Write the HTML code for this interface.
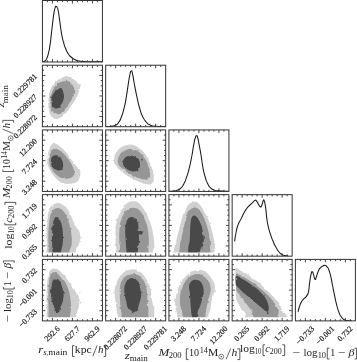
<!DOCTYPE html>
<html><head><meta charset="utf-8"><title>corner plot</title>
<style>html,body{margin:0;padding:0;background:#fff}body{width:357px;height:362px;overflow:hidden;font-family:"Liberation Serif",serif}svg{display:block}</style>
</head><body>
<svg width="357" height="362" viewBox="0 0 357 362">
<rect width="357" height="362" fill="#fff"/>
<defs>
<clipPath id="c00"><rect x="42.43" y="0.50" width="60.0" height="61.5"/></clipPath>
<clipPath id="c10"><rect x="42.43" y="65.22" width="60.0" height="61.5"/></clipPath>
<clipPath id="c11"><rect x="105.67" y="65.22" width="60.0" height="61.5"/></clipPath>
<clipPath id="c20"><rect x="42.43" y="129.94" width="60.0" height="61.5"/></clipPath>
<clipPath id="c21"><rect x="105.67" y="129.94" width="60.0" height="61.5"/></clipPath>
<clipPath id="c22"><rect x="168.91" y="129.94" width="60.0" height="61.5"/></clipPath>
<clipPath id="c30"><rect x="42.43" y="194.66" width="60.0" height="61.5"/></clipPath>
<clipPath id="c31"><rect x="105.67" y="194.66" width="60.0" height="61.5"/></clipPath>
<clipPath id="c32"><rect x="168.91" y="194.66" width="60.0" height="61.5"/></clipPath>
<clipPath id="c33"><rect x="232.15" y="194.66" width="60.0" height="61.5"/></clipPath>
<clipPath id="c40"><rect x="42.43" y="259.38" width="60.0" height="61.5"/></clipPath>
<clipPath id="c41"><rect x="105.67" y="259.38" width="60.0" height="61.5"/></clipPath>
<clipPath id="c42"><rect x="168.91" y="259.38" width="60.0" height="61.5"/></clipPath>
<clipPath id="c43"><rect x="232.15" y="259.38" width="60.0" height="61.5"/></clipPath>
<clipPath id="c44"><rect x="295.39" y="259.38" width="60.0" height="61.5"/></clipPath>
<filter id="soft" x="0" y="0" width="357" height="362" filterUnits="userSpaceOnUse"><feGaussianBlur stdDeviation="0.32"/></filter>
<filter id="rough" x="0" y="0" width="357" height="362" filterUnits="userSpaceOnUse"><feTurbulence type="fractalNoise" baseFrequency="0.22" numOctaves="2" seed="7" result="n"/><feDisplacementMap in="SourceGraphic" in2="n" scale="2.6" xChannelSelector="R" yChannelSelector="G"/></filter>
</defs>
<g filter="url(#soft)">
<g clip-path="url(#c10)"><g filter="url(#rough)">
<path d="M48.32 103.75C48.35 101.28 48.41 98.05 48.87 95.43C49.34 92.81 50.11 90.19 51.09 88.03C52.08 85.88 53.25 84.09 54.79 82.49C56.33 80.89 58.64 79.41 60.34 78.42C62.03 77.43 63.42 76.88 64.96 76.57C66.50 76.26 68.04 76.05 69.58 76.57C71.12 77.10 72.82 78.73 74.20 79.71C75.59 80.70 76.88 81.56 77.90 82.49C78.92 83.41 80.00 84.18 80.30 85.26C80.61 86.34 80.15 87.42 79.75 88.96C79.35 90.50 78.67 92.66 77.90 94.50C77.13 96.35 76.21 98.20 75.13 100.05C74.05 101.90 72.66 103.75 71.43 105.60C70.20 107.45 69.12 109.45 67.73 111.14C66.34 112.84 64.65 114.53 63.11 115.77C61.57 117.00 60.03 118.08 58.49 118.54C56.95 119.00 55.16 119.00 53.87 118.54C52.57 118.08 51.59 117.15 50.72 115.77C49.86 114.38 49.09 112.22 48.69 110.22C48.29 108.22 48.29 106.21 48.32 103.75Z" fill="#d0d0d0"/>
<path d="M50.54 103.75C50.41 101.59 50.32 98.66 50.72 96.35C51.12 94.04 51.96 91.82 52.94 89.88C53.93 87.94 55.10 86.09 56.64 84.71C58.18 83.32 60.34 82.18 62.19 81.56C64.03 80.95 66.19 80.70 67.73 81.01C69.27 81.32 70.41 82.40 71.43 83.41C72.45 84.43 73.37 85.72 73.83 87.11C74.29 88.50 74.45 89.88 74.20 91.73C73.96 93.58 73.12 96.35 72.35 98.20C71.58 100.05 70.66 101.13 69.58 102.82C68.50 104.52 67.27 106.68 65.88 108.37C64.50 110.07 62.65 112.01 61.26 112.99C59.87 113.98 58.80 114.29 57.56 114.29C56.33 114.29 54.88 113.82 53.87 112.99C52.85 112.16 52.02 110.84 51.46 109.29C50.91 107.75 50.66 105.91 50.54 103.75Z" fill="#969696"/>
<path d="M51.46 101.90C51.40 100.36 51.46 98.05 52.02 96.35C52.57 94.66 53.71 92.96 54.79 91.73C55.87 90.50 57.41 89.57 58.49 88.96C59.57 88.34 60.49 87.57 61.26 88.03C62.03 88.50 62.65 90.34 63.11 91.73C63.57 93.12 64.03 94.81 64.03 96.35C64.03 97.89 63.73 99.43 63.11 100.98C62.49 102.52 61.26 104.36 60.34 105.60C59.41 106.83 58.55 107.97 57.56 108.37C56.58 108.77 55.28 108.46 54.42 108.00C53.56 107.54 52.88 106.61 52.39 105.60C51.89 104.58 51.52 103.44 51.46 101.90Z" fill="#4a4a4a"/>
</g></g>
<g clip-path="url(#c20)"><g filter="url(#rough)">
<path d="M47.40 163.13C46.99 160.66 47.46 158.04 47.76 155.73C48.07 153.42 48.54 151.17 49.24 149.26C49.95 147.35 50.94 145.19 52.02 144.27C53.10 143.34 54.33 143.34 55.71 143.71C57.10 144.08 58.80 145.26 60.34 146.49C61.88 147.72 63.57 149.57 64.96 151.11C66.34 152.65 67.42 154.04 68.66 155.73C69.89 157.43 70.97 159.43 72.35 161.28C73.74 163.13 75.74 165.44 76.98 166.82C78.21 168.21 79.19 168.36 79.75 169.60C80.30 170.83 80.46 172.52 80.30 174.22C80.15 175.91 79.53 178.38 78.82 179.77C78.12 181.15 77.44 181.86 76.05 182.54C74.66 183.22 72.51 183.68 70.50 183.83C68.50 183.99 66.04 183.99 64.03 183.46C62.03 182.94 60.18 181.92 58.49 180.69C56.79 179.46 55.25 177.76 53.87 176.07C52.48 174.37 51.25 172.68 50.17 170.52C49.09 168.36 47.80 165.59 47.40 163.13Z" fill="#d0d0d0"/>
<path d="M49.24 162.20C48.84 159.89 49.24 157.67 49.61 155.73C49.98 153.79 50.60 151.73 51.46 150.56C52.33 149.38 53.47 148.77 54.79 148.71C56.12 148.64 57.87 149.32 59.41 150.19C60.95 151.05 62.65 152.50 64.03 153.88C65.42 155.27 66.50 156.81 67.73 158.50C68.96 160.20 70.41 162.20 71.43 164.05C72.45 165.90 73.37 167.90 73.83 169.60C74.29 171.29 74.60 172.89 74.20 174.22C73.80 175.54 72.82 176.78 71.43 177.55C70.04 178.32 67.73 178.84 65.88 178.84C64.03 178.84 62.03 178.32 60.34 177.55C58.64 176.78 57.10 175.54 55.71 174.22C54.33 172.89 53.10 171.60 52.02 169.60C50.94 167.59 49.64 164.51 49.24 162.20Z" fill="#969696"/>
<path d="M51.09 163.13C50.91 161.68 51.09 159.74 51.46 158.50C51.83 157.27 52.45 156.26 53.31 155.73C54.17 155.21 55.47 155.05 56.64 155.36C57.81 155.67 59.35 156.59 60.34 157.58C61.32 158.57 62.09 159.89 62.56 161.28C63.02 162.66 63.17 164.61 63.11 165.90C63.05 167.19 62.80 168.27 62.19 169.04C61.57 169.81 60.49 170.43 59.41 170.52C58.33 170.61 56.85 170.15 55.71 169.60C54.57 169.04 53.34 168.27 52.57 167.19C51.80 166.12 51.28 164.57 51.09 163.13Z" fill="#4a4a4a"/>
</g></g>
<g clip-path="url(#c21)"><g filter="url(#rough)">
<path d="M114.09 160.35C114.09 158.81 114.40 156.50 115.02 154.81C115.63 153.11 116.56 151.57 117.79 150.19C119.02 148.80 120.72 147.41 122.41 146.49C124.11 145.56 126.11 144.89 127.96 144.64C129.81 144.39 131.81 144.55 133.50 145.01C135.20 145.47 136.59 146.40 138.13 147.41C139.67 148.43 141.36 149.72 142.75 151.11C144.14 152.50 145.37 154.04 146.45 155.73C147.52 157.43 148.39 159.43 149.22 161.28C150.05 163.13 150.76 164.82 151.44 166.82C152.12 168.83 152.89 171.14 153.29 173.29C153.69 175.45 154.06 178.07 153.84 179.77C153.63 181.46 153.07 182.69 151.99 183.46C150.91 184.23 149.22 184.54 147.37 184.39C145.52 184.23 143.06 183.31 140.90 182.54C138.74 181.77 136.59 180.84 134.43 179.77C132.27 178.69 129.96 177.30 127.96 176.07C125.96 174.84 124.11 173.76 122.41 172.37C120.72 170.98 119.02 169.14 117.79 167.75C116.56 166.36 115.63 165.28 115.02 164.05C114.40 162.82 114.09 161.89 114.09 160.35Z" fill="#d0d0d0"/>
<path d="M117.79 161.28C117.88 159.74 118.50 157.33 119.27 155.73C120.04 154.13 120.96 152.74 122.41 151.66C123.86 150.59 126.11 149.66 127.96 149.26C129.81 148.86 131.66 148.80 133.50 149.26C135.35 149.72 137.36 150.80 139.05 152.03C140.75 153.27 142.35 154.96 143.67 156.66C145.00 158.35 146.14 160.35 147.00 162.20C147.86 164.05 148.33 165.75 148.85 167.75C149.37 169.75 150.08 172.46 150.14 174.22C150.21 175.98 149.99 177.36 149.22 178.29C148.45 179.21 147.22 179.77 145.52 179.77C143.83 179.77 141.21 179.06 139.05 178.29C136.89 177.52 134.74 176.28 132.58 175.14C130.42 174.00 127.96 172.68 126.11 171.45C124.26 170.21 122.72 168.83 121.49 167.75C120.26 166.67 119.33 166.05 118.71 164.98C118.10 163.90 117.70 162.82 117.79 161.28Z" fill="#969696"/>
<path d="M122.97 162.20C123.12 161.12 123.43 159.52 124.26 158.50C125.09 157.49 126.57 156.56 127.96 156.10C129.34 155.64 131.19 155.49 132.58 155.73C133.97 155.98 135.20 156.72 136.28 157.58C137.36 158.44 138.43 159.83 139.05 160.91C139.67 161.99 139.88 162.91 139.98 164.05C140.07 165.19 140.07 166.67 139.61 167.75C139.14 168.83 138.22 169.91 137.20 170.52C136.19 171.14 134.89 171.51 133.50 171.45C132.12 171.38 130.27 170.77 128.88 170.15C127.50 169.54 126.11 168.61 125.19 167.75C124.26 166.89 123.71 165.90 123.34 164.98C122.97 164.05 122.81 163.28 122.97 162.20Z" fill="#4a4a4a"/>
</g></g>
<clipPath id="f30"><rect x="42.43" y="194.66" width="60.0" height="57.80"/></clipPath>
<g clip-path="url(#f30)"><g filter="url(#rough)">
<path d="M46.47 235.52C46.47 232.13 46.81 229.36 47.03 226.28C47.24 223.20 47.46 219.65 47.76 217.03C48.07 214.41 48.32 212.41 48.87 210.56C49.43 208.71 50.11 207.08 51.09 205.94C52.08 204.80 53.40 204.19 54.79 203.72C56.18 203.26 57.87 202.86 59.41 203.17C60.95 203.48 62.65 204.55 64.03 205.57C65.42 206.59 66.65 207.82 67.73 209.27C68.81 210.72 69.64 212.35 70.50 214.26C71.37 216.17 72.14 218.73 72.91 220.73C73.68 222.73 74.29 224.89 75.13 226.28C75.96 227.66 77.13 227.97 77.90 229.05C78.67 230.13 79.35 231.36 79.75 232.75C80.15 234.14 80.30 235.83 80.30 237.37C80.30 238.91 80.15 240.61 79.75 241.99C79.35 243.38 78.52 244.46 77.90 245.69C77.28 246.92 76.82 247.38 76.05 249.39C75.28 251.39 77.90 256.32 73.28 257.71C68.66 259.09 52.69 259.56 48.32 257.71C43.94 255.86 47.33 250.31 47.03 246.61C46.72 242.92 46.47 238.91 46.47 235.52Z" fill="#d0d0d0"/>
<path d="M48.32 237.37C48.32 233.98 48.57 229.82 48.87 226.28C49.18 222.73 49.55 218.73 50.17 216.11C50.78 213.49 51.49 211.89 52.57 210.56C53.65 209.24 55.19 208.38 56.64 208.16C58.09 207.94 59.87 208.41 61.26 209.27C62.65 210.13 63.88 211.73 64.96 213.34C66.04 214.94 66.96 216.88 67.73 218.88C68.50 220.89 69.03 223.20 69.58 225.35C70.13 227.51 70.69 229.51 71.06 231.82C71.43 234.14 71.74 236.91 71.80 239.22C71.86 241.53 71.80 243.84 71.43 245.69C71.06 247.54 70.20 248.31 69.58 250.31C68.96 252.31 70.97 256.47 67.73 257.71C64.50 258.94 53.31 259.56 50.17 257.71C47.03 255.86 49.18 250.00 48.87 246.61C48.57 243.22 48.32 240.76 48.32 237.37Z" fill="#969696"/>
<path d="M52.02 235.52C52.08 232.44 52.26 228.90 52.57 226.28C52.88 223.66 53.19 221.35 53.87 219.81C54.54 218.27 55.71 217.19 56.64 217.03C57.56 216.88 58.64 217.80 59.41 218.88C60.18 219.96 60.74 221.66 61.26 223.50C61.78 225.35 62.25 227.66 62.56 229.98C62.86 232.29 63.11 234.91 63.11 237.37C63.11 239.84 62.86 242.61 62.56 244.77C62.25 246.92 61.78 248.15 61.26 250.31C60.74 252.47 60.74 256.47 59.41 257.71C58.09 258.94 54.51 259.86 53.31 257.71C52.11 255.55 52.42 248.46 52.20 244.77C51.99 241.07 51.96 238.60 52.02 235.52Z" fill="#4a4a4a"/>
</g></g>
<clipPath id="f31"><rect x="105.67" y="194.66" width="60.0" height="57.80"/></clipPath>
<g clip-path="url(#f31)"><g filter="url(#rough)">
<path d="M115.57 229.98C115.69 226.89 115.79 224.89 116.31 222.58C116.83 220.27 117.85 218.11 118.71 216.11C119.58 214.11 120.41 212.41 121.49 210.56C122.57 208.71 123.80 206.47 125.19 205.02C126.57 203.57 128.27 202.49 129.81 201.87C131.35 201.26 132.89 201.10 134.43 201.32C135.97 201.54 137.66 202.09 139.05 203.17C140.44 204.25 141.52 206.10 142.75 207.79C143.98 209.48 145.37 211.33 146.45 213.34C147.52 215.34 148.39 217.65 149.22 219.81C150.05 221.96 150.82 224.12 151.44 226.28C152.05 228.43 152.52 230.59 152.92 232.75C153.32 234.91 153.59 237.06 153.84 239.22C154.09 241.38 154.55 243.84 154.40 245.69C154.24 247.54 153.63 248.31 152.92 250.31C152.21 252.31 155.84 256.47 150.14 257.71C144.44 258.94 124.35 259.25 118.71 257.71C113.08 256.17 116.83 251.24 116.31 248.46C115.79 245.69 115.69 244.15 115.57 241.07C115.45 237.99 115.45 233.06 115.57 229.98Z" fill="#d0d0d0"/>
<path d="M119.27 231.82C119.39 229.36 119.58 226.74 120.01 224.43C120.44 222.12 121.06 219.96 121.86 217.96C122.66 215.96 123.64 213.95 124.82 212.41C125.99 210.87 127.43 209.48 128.88 208.71C130.33 207.94 131.96 207.70 133.50 207.79C135.05 207.88 136.74 208.34 138.13 209.27C139.51 210.19 140.75 211.73 141.82 213.34C142.90 214.94 143.73 216.88 144.60 218.88C145.46 220.89 146.38 223.04 147.00 225.35C147.62 227.66 147.99 230.28 148.29 232.75C148.60 235.21 148.85 237.68 148.85 240.14C148.85 242.61 148.70 244.61 148.29 247.54C147.89 250.47 150.76 256.01 146.45 257.71C142.13 259.40 126.82 259.56 122.41 257.71C118.01 255.86 120.53 249.70 120.01 246.61C119.48 243.53 119.39 241.68 119.27 239.22C119.15 236.75 119.15 234.29 119.27 231.82Z" fill="#969696"/>
<path d="M125.19 229.98C125.28 227.51 125.65 225.35 126.11 223.50C126.57 221.66 127.03 219.96 127.96 218.88C128.88 217.80 130.42 217.10 131.66 217.03C132.89 216.97 134.34 217.59 135.35 218.51C136.37 219.44 137.23 221.13 137.76 222.58C138.28 224.03 138.28 225.82 138.50 227.20C138.71 228.59 138.50 230.28 139.05 230.90C139.61 231.52 141.21 230.59 141.82 230.90C142.44 231.21 142.81 232.13 142.75 232.75C142.69 233.36 142.07 234.29 141.45 234.60C140.84 234.91 139.45 233.52 139.05 234.60C138.65 235.68 139.21 238.76 139.05 241.07C138.90 243.38 138.59 245.69 138.13 248.46C137.66 251.24 137.97 256.17 136.28 257.71C134.58 259.25 129.65 259.56 127.96 257.71C126.26 255.86 126.51 249.85 126.11 246.61C125.71 243.38 125.71 241.07 125.56 238.29C125.40 235.52 125.09 232.44 125.19 229.98Z" fill="#4a4a4a"/>
</g></g>
<clipPath id="f32"><rect x="168.91" y="194.66" width="60.0" height="57.80"/></clipPath>
<g clip-path="url(#f32)"><g filter="url(#rough)">
<path d="M174.32 248.46C174.32 245.69 175.55 243.53 176.17 241.07C176.78 238.60 177.40 236.14 178.02 233.67C178.63 231.21 179.25 228.74 179.87 226.28C180.48 223.81 180.94 221.35 181.71 218.88C182.48 216.42 183.41 213.80 184.49 211.49C185.57 209.18 186.95 206.56 188.19 205.02C189.42 203.48 190.65 202.77 191.88 202.24C193.12 201.72 194.35 201.57 195.58 201.87C196.81 202.18 198.05 202.80 199.28 204.09C200.51 205.39 201.74 207.64 202.98 209.64C204.21 211.64 205.59 213.95 206.67 216.11C207.75 218.27 208.68 220.42 209.45 222.58C210.22 224.74 210.68 226.89 211.29 229.05C211.91 231.21 212.62 233.36 213.14 235.52C213.67 237.68 214.13 239.99 214.44 241.99C214.75 244.00 215.21 244.92 214.99 247.54C214.78 250.16 213.91 256.01 213.14 257.71C212.37 259.40 216.53 257.71 210.37 257.71C204.21 257.71 182.18 259.25 176.17 257.71C170.16 256.17 174.32 251.24 174.32 248.46Z" fill="#d0d0d0"/>
<path d="M179.87 246.61C179.77 243.53 180.64 241.84 181.16 239.22C181.68 236.60 182.39 233.67 183.01 230.90C183.62 228.13 184.15 225.20 184.86 222.58C185.57 219.96 186.40 217.28 187.26 215.19C188.12 213.09 188.96 211.24 190.03 210.01C191.11 208.78 192.50 208.10 193.73 207.79C194.96 207.48 196.20 207.39 197.43 208.16C198.66 208.93 199.96 210.62 201.13 212.41C202.30 214.20 203.47 216.57 204.45 218.88C205.44 221.19 206.30 223.81 207.04 226.28C207.78 228.74 208.40 231.21 208.89 233.67C209.38 236.14 209.82 238.76 210.00 241.07C210.19 243.38 210.31 244.77 210.00 247.54C209.69 250.31 212.87 256.01 208.15 257.71C203.44 259.40 186.43 259.56 181.71 257.71C177.00 255.86 179.96 249.70 179.87 246.61Z" fill="#969696"/>
<path d="M188.19 248.46C188.28 245.69 189.36 243.69 189.66 241.07C189.97 238.45 189.91 235.52 190.03 232.75C190.16 229.98 190.16 226.89 190.40 224.43C190.65 221.96 190.96 219.44 191.51 217.96C192.07 216.48 192.90 215.77 193.73 215.56C194.56 215.34 195.58 215.80 196.50 216.66C197.43 217.53 198.42 219.13 199.28 220.73C200.14 222.33 201.07 224.28 201.68 226.28C202.30 228.28 202.61 230.59 202.98 232.75C203.35 234.91 203.90 237.06 203.90 239.22C203.90 241.38 203.59 243.84 202.98 245.69C202.36 247.54 201.13 248.31 200.20 250.31C199.28 252.31 199.28 256.47 197.43 257.71C195.58 258.94 190.65 259.25 189.11 257.71C187.57 256.17 188.09 251.24 188.19 248.46Z" fill="#4a4a4a"/>
</g></g>
<clipPath id="f40"><rect x="42.43" y="259.38" width="60.0" height="57.80"/></clipPath>
<g clip-path="url(#f40)"><g filter="url(#rough)">
<path d="M46.47 298.67C46.47 294.67 46.81 290.97 47.03 287.58C47.24 284.19 47.40 280.96 47.76 278.34C48.13 275.72 48.44 273.47 49.24 271.87C50.04 270.26 51.34 269.19 52.57 268.72C53.80 268.26 55.19 268.48 56.64 269.09C58.09 269.71 59.72 271.03 61.26 272.42C62.80 273.81 64.50 275.66 65.88 277.41C67.27 279.17 68.41 281.11 69.58 282.96C70.75 284.81 71.83 286.96 72.91 288.50C73.99 290.05 75.13 290.97 76.05 292.20C76.98 293.43 77.93 294.36 78.45 295.90C78.98 297.44 79.13 299.60 79.19 301.45C79.26 303.29 79.19 305.14 78.82 306.99C78.45 308.84 77.75 309.92 76.98 312.54C76.21 315.16 75.13 321.01 74.20 322.71C73.28 324.40 75.74 322.71 71.43 322.71C67.12 322.71 52.39 324.56 48.32 322.71C44.25 320.86 47.33 315.62 47.03 311.61C46.72 307.61 46.47 302.68 46.47 298.67Z" fill="#d0d0d0"/>
<path d="M48.32 298.67C48.32 294.82 48.47 290.97 48.69 287.58C48.90 284.19 49.15 280.65 49.61 278.34C50.08 276.03 50.60 274.70 51.46 273.71C52.33 272.73 53.47 272.20 54.79 272.42C56.12 272.64 57.93 273.78 59.41 275.01C60.89 276.24 62.43 278.09 63.66 279.82C64.90 281.54 65.88 283.30 66.81 285.36C67.73 287.43 68.59 289.83 69.21 292.20C69.83 294.57 70.20 297.13 70.50 299.60C70.81 302.06 71.06 304.84 71.06 306.99C71.06 309.15 70.91 309.92 70.50 312.54C70.10 315.16 69.27 321.01 68.66 322.71C68.04 324.40 69.89 322.71 66.81 322.71C63.73 322.71 53.19 324.71 50.17 322.71C47.15 320.70 49.00 314.70 48.69 310.69C48.38 306.68 48.32 302.52 48.32 298.67Z" fill="#969696"/>
<path d="M51.09 294.98C51.06 292.97 51.22 289.89 51.46 287.58C51.71 285.27 52.02 282.59 52.57 281.11C53.13 279.63 53.87 279.01 54.79 278.71C55.71 278.40 57.13 278.55 58.12 279.26C59.10 279.97 59.97 281.42 60.71 282.96C61.45 284.50 62.06 286.66 62.56 288.50C63.05 290.35 63.57 292.20 63.66 294.05C63.76 295.90 63.42 297.90 63.11 299.60C62.80 301.29 62.34 302.77 61.82 304.22C61.29 305.67 60.37 307.05 59.97 308.29C59.57 309.52 59.81 310.91 59.41 311.61C59.01 312.32 58.18 312.54 57.56 312.54C56.95 312.54 56.18 312.23 55.71 311.61C55.25 311.00 55.25 310.07 54.79 308.84C54.33 307.61 53.47 305.76 52.94 304.22C52.42 302.68 51.96 301.14 51.65 299.60C51.34 298.06 51.12 296.98 51.09 294.98Z" fill="#4a4a4a"/>
</g></g>
<clipPath id="f41"><rect x="105.67" y="259.38" width="60.0" height="57.80"/></clipPath>
<g clip-path="url(#f41)"><g filter="url(#rough)">
<path d="M114.46 290.35C114.62 288.04 115.23 285.89 115.94 283.88C116.65 281.88 117.48 280.19 118.71 278.34C119.95 276.49 121.64 274.18 123.34 272.79C125.03 271.40 126.88 270.57 128.88 270.02C130.89 269.46 133.50 269.15 135.35 269.46C137.20 269.77 138.43 270.69 139.98 271.87C141.52 273.04 143.21 274.64 144.60 276.49C145.98 278.34 147.28 280.80 148.29 282.96C149.31 285.12 150.17 287.43 150.70 289.43C151.22 291.43 151.22 292.97 151.44 294.98C151.65 296.98 151.59 299.44 151.99 301.45C152.39 303.45 153.44 305.30 153.84 306.99C154.24 308.69 154.55 309.00 154.40 311.61C154.24 314.23 153.78 320.86 152.92 322.71C152.05 324.56 154.46 322.71 149.22 322.71C143.98 322.71 126.73 323.94 121.49 322.71C116.25 321.47 118.65 317.47 117.79 315.31C116.93 313.15 116.62 311.61 116.31 309.77C116.00 307.92 116.16 306.22 115.94 304.22C115.73 302.22 115.26 300.06 115.02 297.75C114.77 295.44 114.31 292.66 114.46 290.35Z" fill="#d0d0d0"/>
<path d="M119.64 291.28C119.73 288.81 119.95 286.04 120.56 283.88C121.18 281.73 122.10 279.82 123.34 278.34C124.57 276.86 126.26 275.69 127.96 275.01C129.65 274.33 131.66 274.18 133.50 274.27C135.35 274.36 137.51 274.73 139.05 275.56C140.59 276.40 141.67 277.72 142.75 279.26C143.83 280.80 144.81 282.65 145.52 284.81C146.23 286.96 146.69 289.58 147.00 292.20C147.31 294.82 147.15 297.90 147.37 300.52C147.59 303.14 148.14 305.76 148.29 307.92C148.45 310.07 148.60 311.00 148.29 313.46C147.99 315.93 150.45 321.17 146.45 322.71C142.44 324.25 128.42 324.25 124.26 322.71C120.10 321.17 122.10 316.24 121.49 313.46C120.87 310.69 120.81 308.53 120.56 306.07C120.32 303.60 120.16 301.14 120.01 298.67C119.85 296.21 119.55 293.74 119.64 291.28Z" fill="#969696"/>
<path d="M124.26 289.43C124.32 287.58 124.57 285.49 125.19 283.88C125.80 282.28 126.88 280.80 127.96 279.82C129.04 278.83 130.42 278.15 131.66 277.97C132.89 277.78 134.28 278.09 135.35 278.71C136.43 279.32 137.36 280.34 138.13 281.66C138.90 282.99 139.51 285.05 139.98 286.66C140.44 288.26 140.44 290.35 140.90 291.28C141.36 292.20 142.66 291.74 142.75 292.20C142.84 292.66 141.76 293.13 141.45 294.05C141.15 294.98 141.30 296.05 140.90 297.75C140.50 299.44 139.67 302.22 139.05 304.22C138.43 306.22 138.13 308.38 137.20 309.77C136.28 311.15 134.43 311.92 133.50 312.54C132.58 313.15 131.81 313.77 131.66 313.46C131.50 313.15 132.89 311.31 132.58 310.69C132.27 310.07 130.67 310.38 129.81 309.77C128.94 309.15 128.02 308.38 127.40 306.99C126.79 305.61 126.54 303.45 126.11 301.45C125.68 299.44 125.12 296.98 124.82 294.98C124.51 292.97 124.20 291.28 124.26 289.43Z" fill="#4a4a4a"/>
</g></g>
<clipPath id="f42"><rect x="168.91" y="259.38" width="60.0" height="57.80"/></clipPath>
<g clip-path="url(#f42)"><g filter="url(#rough)">
<path d="M175.24 302.37C175.34 300.21 175.71 297.29 176.17 294.98C176.63 292.66 177.25 290.51 178.02 288.50C178.79 286.50 179.71 284.81 180.79 282.96C181.87 281.11 183.10 279.05 184.49 277.41C185.87 275.78 187.57 274.30 189.11 273.16C190.65 272.02 192.04 271.10 193.73 270.57C195.43 270.05 197.43 269.89 199.28 270.02C201.13 270.14 203.13 270.39 204.82 271.31C206.52 272.24 208.06 273.93 209.45 275.56C210.83 277.20 212.22 279.26 213.14 281.11C214.07 282.96 214.78 284.81 214.99 286.66C215.21 288.50 214.90 290.51 214.44 292.20C213.98 293.90 212.74 295.13 212.22 296.82C211.70 298.52 211.60 300.37 211.29 302.37C210.99 304.37 210.83 306.84 210.37 308.84C209.91 310.84 209.29 312.08 208.52 314.39C207.75 316.70 210.52 321.32 205.75 322.71C200.97 324.09 184.64 324.25 179.87 322.71C175.09 321.17 177.80 315.93 177.09 313.46C176.38 311.00 175.92 309.77 175.61 307.92C175.31 306.07 175.15 304.53 175.24 302.37Z" fill="#d0d0d0"/>
<path d="M179.87 300.52C179.87 298.36 179.96 295.44 180.42 293.13C180.88 290.82 181.81 288.66 182.64 286.66C183.47 284.65 184.18 282.80 185.41 281.11C186.64 279.41 188.34 277.63 190.03 276.49C191.73 275.35 193.73 274.58 195.58 274.27C197.43 273.96 199.43 274.02 201.13 274.64C202.82 275.26 204.36 276.58 205.75 277.97C207.14 279.35 208.61 281.20 209.45 282.96C210.28 284.71 210.65 286.66 210.74 288.50C210.83 290.35 210.43 292.20 210.00 294.05C209.57 295.90 208.64 297.59 208.15 299.60C207.66 301.60 207.44 303.91 207.04 306.07C206.64 308.22 206.43 309.77 205.75 312.54C205.07 315.31 206.52 321.01 202.98 322.71C199.43 324.40 187.94 324.40 184.49 322.71C181.04 321.01 182.95 315.31 182.27 312.54C181.59 309.77 180.82 308.07 180.42 306.07C180.02 304.07 179.87 302.68 179.87 300.52Z" fill="#969696"/>
<path d="M189.11 285.73C189.39 284.44 190.03 282.65 190.96 281.66C191.88 280.68 193.33 280.00 194.66 279.82C195.98 279.63 197.68 279.88 198.91 280.56C200.14 281.23 201.28 282.56 202.05 283.88C202.82 285.21 203.31 286.81 203.53 288.50C203.75 290.20 203.59 292.20 203.35 294.05C203.10 295.90 202.57 297.59 202.05 299.60C201.53 301.60 200.91 304.07 200.20 306.07C199.49 308.07 198.57 308.84 197.80 311.61C197.03 314.39 196.26 320.86 195.58 322.71C194.90 324.56 194.41 324.09 193.73 322.71C193.05 321.32 191.98 316.70 191.51 314.39C191.05 312.08 191.14 310.84 190.96 308.84C190.77 306.84 190.56 304.68 190.40 302.37C190.25 300.06 190.22 297.13 190.03 294.98C189.85 292.82 189.45 290.97 189.29 289.43C189.14 287.89 188.83 287.03 189.11 285.73Z" fill="#4a4a4a"/>
</g></g>
<clipPath id="f43"><rect x="232.15" y="259.38" width="60.0" height="57.80"/></clipPath>
<g clip-path="url(#f43)"><g filter="url(#rough)">
<path d="M235.47 269.09C236.03 267.00 237.63 268.85 239.17 269.46C240.71 270.08 242.87 271.62 244.71 272.79C246.56 273.96 248.26 275.10 250.26 276.49C252.26 277.87 254.57 279.41 256.73 281.11C258.89 282.80 261.20 284.81 263.20 286.66C265.21 288.50 266.90 290.35 268.75 292.20C270.60 294.05 272.60 295.75 274.29 297.75C275.99 299.75 277.53 302.06 278.92 304.22C280.30 306.38 281.38 308.84 282.61 310.69C283.85 312.54 285.45 313.31 286.31 315.31C287.17 317.31 294.26 321.47 287.79 322.71C281.32 323.94 254.51 324.25 247.49 322.71C240.46 321.17 246.56 315.62 245.64 313.46C244.71 311.31 243.02 311.15 241.94 309.77C240.86 308.38 240.03 306.68 239.17 305.14C238.31 303.60 237.29 302.22 236.76 300.52C236.24 298.83 236.18 298.06 236.03 294.98C235.87 291.89 235.93 286.35 235.84 282.03C235.75 277.72 234.92 271.19 235.47 269.09Z" fill="#d0d0d0"/>
<path d="M235.84 274.64C236.30 272.17 237.69 274.18 239.17 274.64C240.65 275.10 242.87 276.33 244.71 277.41C246.56 278.49 248.26 279.72 250.26 281.11C252.26 282.50 254.57 284.10 256.73 285.73C258.89 287.36 261.20 289.21 263.20 290.91C265.21 292.60 267.05 294.14 268.75 295.90C270.44 297.66 272.05 299.60 273.37 301.45C274.70 303.29 275.84 305.14 276.70 306.99C277.56 308.84 278.42 309.92 278.55 312.54C278.67 315.16 278.30 321.01 277.44 322.71C276.58 324.40 276.82 322.71 273.37 322.71C269.92 322.71 260.28 324.56 256.73 322.71C253.19 320.86 253.65 314.54 252.11 311.61C250.57 308.69 249.03 307.15 247.49 305.14C245.95 303.14 244.25 301.45 242.87 299.60C241.48 297.75 240.25 295.75 239.17 294.05C238.09 292.36 236.95 292.66 236.40 289.43C235.84 286.19 235.38 277.10 235.84 274.64Z" fill="#969696"/>
<path d="M235.84 276.49C236.36 275.26 237.69 276.80 239.17 277.41C240.65 278.03 242.87 279.11 244.71 280.19C246.56 281.26 248.26 282.50 250.26 283.88C252.26 285.27 254.73 286.81 256.73 288.50C258.73 290.20 260.74 292.36 262.28 294.05C263.82 295.75 264.99 296.98 265.98 298.67C266.96 300.37 267.73 302.37 268.19 304.22C268.66 306.07 268.81 308.53 268.75 309.77C268.69 311.00 268.44 311.46 267.82 311.61C267.21 311.77 266.44 311.61 265.05 310.69C263.66 309.77 261.35 307.61 259.50 306.07C257.66 304.53 255.81 302.99 253.96 301.45C252.11 299.91 250.26 298.36 248.41 296.82C246.56 295.28 244.56 293.74 242.87 292.20C241.17 290.66 239.38 288.81 238.24 287.58C237.10 286.35 236.43 286.66 236.03 284.81C235.62 282.96 235.32 277.72 235.84 276.49Z" fill="#4a4a4a"/>
</g></g>
<g filter="url(#rough)"><ellipse cx="141.9" cy="159.7" rx="1.0" ry="0.8" fill="#4a4a4a"/><ellipse cx="267.8" cy="313.2" rx="1.0" ry="0.9" fill="#4a4a4a"/><ellipse cx="80.3" cy="292.8" rx="0.8" ry="0.8" fill="#d0d0d0"/><ellipse cx="80.6" cy="302.5" rx="0.7" ry="0.9" fill="#d0d0d0"/><ellipse cx="81.0" cy="237.5" rx="0.7" ry="0.8" fill="#d0d0d0"/></g>
<path clip-path="url(#c00)" d="M42.31 61.96C43.03 61.76 43.03 62.48 44.47 61.37C45.91 60.26 45.25 61.57 46.63 58.63C48.00 55.69 47.41 57.39 48.59 52.55C49.76 47.71 49.21 50.52 50.16 44.12C51.10 37.71 50.55 40.85 51.43 33.33C52.31 25.82 51.92 28.63 52.80 21.57C53.69 14.51 53.26 16.86 54.08 12.16C54.90 7.45 54.54 9.35 55.25 7.45C55.97 5.56 55.58 6.41 56.24 6.47C56.89 6.54 56.50 5.88 57.22 7.65C57.93 9.41 57.48 6.80 58.39 11.76C59.31 16.73 58.92 15.36 59.96 22.55C61.01 29.74 60.35 26.80 61.53 33.33C62.71 39.87 62.05 36.93 63.49 42.16C64.93 47.39 64.21 45.10 65.84 49.02C67.48 52.94 66.56 51.18 68.39 53.92C70.22 56.67 69.05 55.29 71.33 57.25C73.62 59.22 72.64 58.56 75.25 59.80C77.87 61.05 76.24 60.39 79.18 60.98C82.12 61.57 80.16 61.31 84.08 61.57C88.00 61.83 84.73 61.70 90.94 61.76C97.15 61.83 98.78 61.76 102.71 61.76" fill="none" stroke="#1a1a1a" stroke-width="1.05" stroke-linejoin="round"/>
<path clip-path="url(#c11)" d="M105.77 126.49C107.62 126.43 107.93 126.80 111.32 126.30C114.71 125.81 113.48 126.37 115.94 125.01C118.41 123.65 116.87 125.01 118.71 122.24C120.56 119.46 119.64 121.62 121.49 116.69C123.34 111.76 122.72 113.61 124.26 107.45C125.80 101.28 124.88 105.29 126.11 98.20C127.34 91.12 126.73 93.89 127.96 86.19C129.19 78.48 128.70 80.15 129.81 75.09C130.92 70.04 130.36 71.33 131.29 71.03C132.21 70.72 131.53 69.73 132.58 74.17C133.63 78.61 132.89 76.33 134.43 84.34C135.97 92.35 135.35 89.88 137.20 98.20C139.05 106.52 138.13 103.13 139.98 109.29C141.82 115.46 140.59 112.38 142.75 116.69C144.91 121.00 143.98 119.46 146.45 122.24C148.91 125.01 147.06 123.65 150.14 125.01C153.22 126.37 150.45 125.81 155.69 126.30C160.93 126.80 162.47 126.43 165.86 126.49" fill="none" stroke="#1a1a1a" stroke-width="1.05" stroke-linejoin="round"/>
<path clip-path="url(#c22)" d="M168.77 191.23C170.31 191.17 170.62 191.35 173.40 191.04C176.17 190.73 174.63 191.29 177.09 190.30C179.56 189.32 178.63 190.06 180.79 188.09C182.95 186.11 181.71 187.78 183.56 184.39C185.41 181.00 184.49 183.15 186.34 177.92C188.19 172.68 187.26 176.07 189.11 168.67C190.96 161.28 190.34 163.74 191.88 155.73C193.42 147.72 192.62 150.49 193.73 144.64C194.84 138.78 194.29 141.13 195.21 138.17C196.13 135.21 195.64 135.76 196.50 135.76C197.37 135.76 196.87 134.90 197.80 138.17C198.72 141.43 198.17 139.71 199.28 145.56C200.39 151.42 199.89 148.34 201.13 155.73C202.36 163.13 201.62 160.66 202.98 167.75C204.33 174.84 203.65 171.75 205.19 176.99C206.73 182.23 205.87 179.95 207.60 183.46C209.32 186.98 208.21 185.37 210.37 187.53C212.53 189.69 211.29 188.82 214.07 189.93C216.84 191.04 213.64 190.43 218.69 190.86C223.74 191.29 225.72 191.10 229.23 191.23" fill="none" stroke="#1a1a1a" stroke-width="1.05" stroke-linejoin="round"/>
<path clip-path="url(#c33)" d="M234.55 241.44C235.04 238.54 234.92 238.11 236.03 232.75C237.13 227.39 236.21 229.98 237.87 225.35C239.54 220.73 239.04 222.89 241.02 218.88C242.99 214.88 241.94 216.73 243.79 213.34C245.64 209.95 244.71 211.30 246.56 208.71C248.41 206.13 247.49 207.42 249.34 205.57C251.19 203.72 250.26 204.89 252.11 203.17C253.96 201.44 253.34 201.01 254.88 200.40C256.42 199.78 255.50 199.96 256.73 201.32C257.96 202.68 257.35 202.61 258.58 204.46C259.81 206.31 259.32 206.68 260.43 206.87C261.54 207.05 260.98 207.05 261.91 205.02C262.83 202.98 262.46 202.18 263.20 200.76C263.94 199.35 263.51 199.66 264.13 200.76C264.74 201.87 264.43 200.83 265.05 204.09C265.67 207.36 265.36 205.63 265.98 210.56C266.59 215.49 266.16 213.64 266.90 218.88C267.64 224.12 266.96 221.04 268.19 226.28C269.43 231.52 268.87 229.36 270.60 234.60C272.32 239.84 271.52 237.68 273.37 241.99C275.22 246.31 274.29 244.27 276.14 247.54C277.99 250.80 277.07 249.51 278.92 251.79C280.77 254.07 279.84 253.15 281.69 254.38C283.54 255.61 282.31 255.00 284.46 255.49C286.62 255.98 286.93 255.73 288.16 255.86" fill="none" stroke="#1a1a1a" stroke-width="1.05" stroke-linejoin="round"/>
<path clip-path="url(#c44)" d="M298.03 311.98C298.46 310.32 298.27 310.20 299.32 306.99C300.37 303.79 299.63 305.14 301.17 302.37C302.71 299.60 302.09 300.83 303.94 298.67C305.79 296.52 305.17 298.36 306.71 295.90C308.26 293.43 307.64 295.28 308.56 291.28C309.49 287.27 308.69 289.43 309.49 283.88C310.29 278.34 310.04 278.64 310.97 274.64C311.89 270.63 311.40 271.87 312.26 271.87C313.12 271.87 312.63 272.17 313.56 274.64C314.48 277.10 314.05 278.64 315.03 279.26C316.02 279.88 315.40 279.26 316.51 276.49C317.62 273.71 317.01 273.90 318.36 270.94C319.72 267.98 318.92 269.34 320.58 267.61C322.24 265.89 321.81 266.50 323.35 265.76C324.89 265.03 323.97 265.03 325.20 265.40C326.43 265.76 325.82 265.33 327.05 266.87C328.28 268.41 327.67 266.81 328.90 270.02C330.13 273.22 329.52 271.25 330.75 276.49C331.98 281.73 331.36 279.57 332.60 285.73C333.83 291.89 333.21 289.12 334.45 294.98C335.68 300.83 334.88 297.75 336.29 303.29C337.71 308.84 337.03 307.12 338.70 311.61C340.36 316.11 339.31 314.02 341.29 316.79C343.26 319.56 342.27 318.58 344.61 319.93C346.96 321.29 345.85 320.55 348.31 320.86C350.78 321.17 350.78 320.86 352.01 320.86" fill="none" stroke="#1a1a1a" stroke-width="1.05" stroke-linejoin="round"/>
<rect x="42.43" y="0.50" width="60.0" height="61.5" fill="none" stroke="#333333" stroke-width="1.0"/>
<rect x="42.43" y="65.22" width="60.0" height="61.5" fill="none" stroke="#333333" stroke-width="1.0"/>
<rect x="105.67" y="65.22" width="60.0" height="61.5" fill="none" stroke="#333333" stroke-width="1.0"/>
<rect x="42.43" y="129.94" width="60.0" height="61.5" fill="none" stroke="#333333" stroke-width="1.0"/>
<rect x="105.67" y="129.94" width="60.0" height="61.5" fill="none" stroke="#333333" stroke-width="1.0"/>
<rect x="168.91" y="129.94" width="60.0" height="61.5" fill="none" stroke="#333333" stroke-width="1.0"/>
<rect x="42.43" y="194.66" width="60.0" height="61.5" fill="none" stroke="#333333" stroke-width="1.0"/>
<rect x="105.67" y="194.66" width="60.0" height="61.5" fill="none" stroke="#333333" stroke-width="1.0"/>
<rect x="168.91" y="194.66" width="60.0" height="61.5" fill="none" stroke="#333333" stroke-width="1.0"/>
<rect x="232.15" y="194.66" width="60.0" height="61.5" fill="none" stroke="#333333" stroke-width="1.0"/>
<rect x="42.43" y="259.38" width="60.0" height="61.5" fill="none" stroke="#333333" stroke-width="1.0"/>
<rect x="105.67" y="259.38" width="60.0" height="61.5" fill="none" stroke="#333333" stroke-width="1.0"/>
<rect x="168.91" y="259.38" width="60.0" height="61.5" fill="none" stroke="#333333" stroke-width="1.0"/>
<rect x="232.15" y="259.38" width="60.0" height="61.5" fill="none" stroke="#333333" stroke-width="1.0"/>
<rect x="295.39" y="259.38" width="60.0" height="61.5" fill="none" stroke="#333333" stroke-width="1.0"/>
<path d="M47.43 62.00v-1.7M47.43 0.50v1.7M52.43 62.00v-3.0M52.43 0.50v3.0M57.43 62.00v-1.7M57.43 0.50v1.7M62.43 62.00v-1.7M62.43 0.50v1.7M67.43 62.00v-1.7M67.43 0.50v1.7M72.43 62.00v-3.0M72.43 0.50v3.0M77.43 62.00v-1.7M77.43 0.50v1.7M82.43 62.00v-1.7M82.43 0.50v1.7M87.43 62.00v-1.7M87.43 0.50v1.7M92.43 62.00v-3.0M92.43 0.50v3.0M97.43 62.00v-1.7M97.43 0.50v1.7M47.43 126.72v-1.7M47.43 65.22v1.7M42.43 121.59h1.7M102.43 121.59h-1.7M52.43 126.72v-3.0M52.43 65.22v3.0M42.43 116.47h3.0M102.43 116.47h-3.0M57.43 126.72v-1.7M57.43 65.22v1.7M42.43 111.34h1.7M102.43 111.34h-1.7M62.43 126.72v-1.7M62.43 65.22v1.7M42.43 106.22h1.7M102.43 106.22h-1.7M67.43 126.72v-1.7M67.43 65.22v1.7M42.43 101.09h1.7M102.43 101.09h-1.7M72.43 126.72v-3.0M72.43 65.22v3.0M42.43 95.97h3.0M102.43 95.97h-3.0M77.43 126.72v-1.7M77.43 65.22v1.7M42.43 90.84h1.7M102.43 90.84h-1.7M82.43 126.72v-1.7M82.43 65.22v1.7M42.43 85.72h1.7M102.43 85.72h-1.7M87.43 126.72v-1.7M87.43 65.22v1.7M42.43 80.59h1.7M102.43 80.59h-1.7M92.43 126.72v-3.0M92.43 65.22v3.0M42.43 75.47h3.0M102.43 75.47h-3.0M97.43 126.72v-1.7M97.43 65.22v1.7M42.43 70.34h1.7M102.43 70.34h-1.7M110.67 126.72v-1.7M110.67 65.22v1.7M115.67 126.72v-3.0M115.67 65.22v3.0M120.67 126.72v-1.7M120.67 65.22v1.7M125.67 126.72v-1.7M125.67 65.22v1.7M130.67 126.72v-1.7M130.67 65.22v1.7M135.67 126.72v-3.0M135.67 65.22v3.0M140.67 126.72v-1.7M140.67 65.22v1.7M145.67 126.72v-1.7M145.67 65.22v1.7M150.67 126.72v-1.7M150.67 65.22v1.7M155.67 126.72v-3.0M155.67 65.22v3.0M160.67 126.72v-1.7M160.67 65.22v1.7M47.43 191.44v-1.7M47.43 129.94v1.7M42.43 186.31h1.7M102.43 186.31h-1.7M52.43 191.44v-3.0M52.43 129.94v3.0M42.43 181.19h3.0M102.43 181.19h-3.0M57.43 191.44v-1.7M57.43 129.94v1.7M42.43 176.06h1.7M102.43 176.06h-1.7M62.43 191.44v-1.7M62.43 129.94v1.7M42.43 170.94h1.7M102.43 170.94h-1.7M67.43 191.44v-1.7M67.43 129.94v1.7M42.43 165.81h1.7M102.43 165.81h-1.7M72.43 191.44v-3.0M72.43 129.94v3.0M42.43 160.69h3.0M102.43 160.69h-3.0M77.43 191.44v-1.7M77.43 129.94v1.7M42.43 155.56h1.7M102.43 155.56h-1.7M82.43 191.44v-1.7M82.43 129.94v1.7M42.43 150.44h1.7M102.43 150.44h-1.7M87.43 191.44v-1.7M87.43 129.94v1.7M42.43 145.31h1.7M102.43 145.31h-1.7M92.43 191.44v-3.0M92.43 129.94v3.0M42.43 140.19h3.0M102.43 140.19h-3.0M97.43 191.44v-1.7M97.43 129.94v1.7M42.43 135.06h1.7M102.43 135.06h-1.7M110.67 191.44v-1.7M110.67 129.94v1.7M105.67 186.31h1.7M165.67 186.31h-1.7M115.67 191.44v-3.0M115.67 129.94v3.0M105.67 181.19h3.0M165.67 181.19h-3.0M120.67 191.44v-1.7M120.67 129.94v1.7M105.67 176.06h1.7M165.67 176.06h-1.7M125.67 191.44v-1.7M125.67 129.94v1.7M105.67 170.94h1.7M165.67 170.94h-1.7M130.67 191.44v-1.7M130.67 129.94v1.7M105.67 165.81h1.7M165.67 165.81h-1.7M135.67 191.44v-3.0M135.67 129.94v3.0M105.67 160.69h3.0M165.67 160.69h-3.0M140.67 191.44v-1.7M140.67 129.94v1.7M105.67 155.56h1.7M165.67 155.56h-1.7M145.67 191.44v-1.7M145.67 129.94v1.7M105.67 150.44h1.7M165.67 150.44h-1.7M150.67 191.44v-1.7M150.67 129.94v1.7M105.67 145.31h1.7M165.67 145.31h-1.7M155.67 191.44v-3.0M155.67 129.94v3.0M105.67 140.19h3.0M165.67 140.19h-3.0M160.67 191.44v-1.7M160.67 129.94v1.7M105.67 135.06h1.7M165.67 135.06h-1.7M173.91 191.44v-1.7M173.91 129.94v1.7M178.91 191.44v-3.0M178.91 129.94v3.0M183.91 191.44v-1.7M183.91 129.94v1.7M188.91 191.44v-1.7M188.91 129.94v1.7M193.91 191.44v-1.7M193.91 129.94v1.7M198.91 191.44v-3.0M198.91 129.94v3.0M203.91 191.44v-1.7M203.91 129.94v1.7M208.91 191.44v-1.7M208.91 129.94v1.7M213.91 191.44v-1.7M213.91 129.94v1.7M218.91 191.44v-3.0M218.91 129.94v3.0M223.91 191.44v-1.7M223.91 129.94v1.7M47.43 256.16v-1.7M47.43 194.66v1.7M42.43 251.03h1.7M102.43 251.03h-1.7M52.43 256.16v-3.0M52.43 194.66v3.0M42.43 245.91h3.0M102.43 245.91h-3.0M57.43 256.16v-1.7M57.43 194.66v1.7M42.43 240.78h1.7M102.43 240.78h-1.7M62.43 256.16v-1.7M62.43 194.66v1.7M42.43 235.66h1.7M102.43 235.66h-1.7M67.43 256.16v-1.7M67.43 194.66v1.7M42.43 230.53h1.7M102.43 230.53h-1.7M72.43 256.16v-3.0M72.43 194.66v3.0M42.43 225.41h3.0M102.43 225.41h-3.0M77.43 256.16v-1.7M77.43 194.66v1.7M42.43 220.28h1.7M102.43 220.28h-1.7M82.43 256.16v-1.7M82.43 194.66v1.7M42.43 215.16h1.7M102.43 215.16h-1.7M87.43 256.16v-1.7M87.43 194.66v1.7M42.43 210.03h1.7M102.43 210.03h-1.7M92.43 256.16v-3.0M92.43 194.66v3.0M42.43 204.91h3.0M102.43 204.91h-3.0M97.43 256.16v-1.7M97.43 194.66v1.7M42.43 199.78h1.7M102.43 199.78h-1.7M110.67 256.16v-1.7M110.67 194.66v1.7M105.67 251.03h1.7M165.67 251.03h-1.7M115.67 256.16v-3.0M115.67 194.66v3.0M105.67 245.91h3.0M165.67 245.91h-3.0M120.67 256.16v-1.7M120.67 194.66v1.7M105.67 240.78h1.7M165.67 240.78h-1.7M125.67 256.16v-1.7M125.67 194.66v1.7M105.67 235.66h1.7M165.67 235.66h-1.7M130.67 256.16v-1.7M130.67 194.66v1.7M105.67 230.53h1.7M165.67 230.53h-1.7M135.67 256.16v-3.0M135.67 194.66v3.0M105.67 225.41h3.0M165.67 225.41h-3.0M140.67 256.16v-1.7M140.67 194.66v1.7M105.67 220.28h1.7M165.67 220.28h-1.7M145.67 256.16v-1.7M145.67 194.66v1.7M105.67 215.16h1.7M165.67 215.16h-1.7M150.67 256.16v-1.7M150.67 194.66v1.7M105.67 210.03h1.7M165.67 210.03h-1.7M155.67 256.16v-3.0M155.67 194.66v3.0M105.67 204.91h3.0M165.67 204.91h-3.0M160.67 256.16v-1.7M160.67 194.66v1.7M105.67 199.78h1.7M165.67 199.78h-1.7M173.91 256.16v-1.7M173.91 194.66v1.7M168.91 251.03h1.7M228.91 251.03h-1.7M178.91 256.16v-3.0M178.91 194.66v3.0M168.91 245.91h3.0M228.91 245.91h-3.0M183.91 256.16v-1.7M183.91 194.66v1.7M168.91 240.78h1.7M228.91 240.78h-1.7M188.91 256.16v-1.7M188.91 194.66v1.7M168.91 235.66h1.7M228.91 235.66h-1.7M193.91 256.16v-1.7M193.91 194.66v1.7M168.91 230.53h1.7M228.91 230.53h-1.7M198.91 256.16v-3.0M198.91 194.66v3.0M168.91 225.41h3.0M228.91 225.41h-3.0M203.91 256.16v-1.7M203.91 194.66v1.7M168.91 220.28h1.7M228.91 220.28h-1.7M208.91 256.16v-1.7M208.91 194.66v1.7M168.91 215.16h1.7M228.91 215.16h-1.7M213.91 256.16v-1.7M213.91 194.66v1.7M168.91 210.03h1.7M228.91 210.03h-1.7M218.91 256.16v-3.0M218.91 194.66v3.0M168.91 204.91h3.0M228.91 204.91h-3.0M223.91 256.16v-1.7M223.91 194.66v1.7M168.91 199.78h1.7M228.91 199.78h-1.7M237.15 256.16v-1.7M237.15 194.66v1.7M242.15 256.16v-3.0M242.15 194.66v3.0M247.15 256.16v-1.7M247.15 194.66v1.7M252.15 256.16v-1.7M252.15 194.66v1.7M257.15 256.16v-1.7M257.15 194.66v1.7M262.15 256.16v-3.0M262.15 194.66v3.0M267.15 256.16v-1.7M267.15 194.66v1.7M272.15 256.16v-1.7M272.15 194.66v1.7M277.15 256.16v-1.7M277.15 194.66v1.7M282.15 256.16v-3.0M282.15 194.66v3.0M287.15 256.16v-1.7M287.15 194.66v1.7M47.43 320.88v-1.7M47.43 259.38v1.7M42.43 315.75h1.7M102.43 315.75h-1.7M52.43 320.88v-3.0M52.43 259.38v3.0M42.43 310.63h3.0M102.43 310.63h-3.0M57.43 320.88v-1.7M57.43 259.38v1.7M42.43 305.50h1.7M102.43 305.50h-1.7M62.43 320.88v-1.7M62.43 259.38v1.7M42.43 300.38h1.7M102.43 300.38h-1.7M67.43 320.88v-1.7M67.43 259.38v1.7M42.43 295.25h1.7M102.43 295.25h-1.7M72.43 320.88v-3.0M72.43 259.38v3.0M42.43 290.13h3.0M102.43 290.13h-3.0M77.43 320.88v-1.7M77.43 259.38v1.7M42.43 285.00h1.7M102.43 285.00h-1.7M82.43 320.88v-1.7M82.43 259.38v1.7M42.43 279.88h1.7M102.43 279.88h-1.7M87.43 320.88v-1.7M87.43 259.38v1.7M42.43 274.75h1.7M102.43 274.75h-1.7M92.43 320.88v-3.0M92.43 259.38v3.0M42.43 269.63h3.0M102.43 269.63h-3.0M97.43 320.88v-1.7M97.43 259.38v1.7M42.43 264.50h1.7M102.43 264.50h-1.7M110.67 320.88v-1.7M110.67 259.38v1.7M105.67 315.75h1.7M165.67 315.75h-1.7M115.67 320.88v-3.0M115.67 259.38v3.0M105.67 310.63h3.0M165.67 310.63h-3.0M120.67 320.88v-1.7M120.67 259.38v1.7M105.67 305.50h1.7M165.67 305.50h-1.7M125.67 320.88v-1.7M125.67 259.38v1.7M105.67 300.38h1.7M165.67 300.38h-1.7M130.67 320.88v-1.7M130.67 259.38v1.7M105.67 295.25h1.7M165.67 295.25h-1.7M135.67 320.88v-3.0M135.67 259.38v3.0M105.67 290.13h3.0M165.67 290.13h-3.0M140.67 320.88v-1.7M140.67 259.38v1.7M105.67 285.00h1.7M165.67 285.00h-1.7M145.67 320.88v-1.7M145.67 259.38v1.7M105.67 279.88h1.7M165.67 279.88h-1.7M150.67 320.88v-1.7M150.67 259.38v1.7M105.67 274.75h1.7M165.67 274.75h-1.7M155.67 320.88v-3.0M155.67 259.38v3.0M105.67 269.63h3.0M165.67 269.63h-3.0M160.67 320.88v-1.7M160.67 259.38v1.7M105.67 264.50h1.7M165.67 264.50h-1.7M173.91 320.88v-1.7M173.91 259.38v1.7M168.91 315.75h1.7M228.91 315.75h-1.7M178.91 320.88v-3.0M178.91 259.38v3.0M168.91 310.63h3.0M228.91 310.63h-3.0M183.91 320.88v-1.7M183.91 259.38v1.7M168.91 305.50h1.7M228.91 305.50h-1.7M188.91 320.88v-1.7M188.91 259.38v1.7M168.91 300.38h1.7M228.91 300.38h-1.7M193.91 320.88v-1.7M193.91 259.38v1.7M168.91 295.25h1.7M228.91 295.25h-1.7M198.91 320.88v-3.0M198.91 259.38v3.0M168.91 290.13h3.0M228.91 290.13h-3.0M203.91 320.88v-1.7M203.91 259.38v1.7M168.91 285.00h1.7M228.91 285.00h-1.7M208.91 320.88v-1.7M208.91 259.38v1.7M168.91 279.88h1.7M228.91 279.88h-1.7M213.91 320.88v-1.7M213.91 259.38v1.7M168.91 274.75h1.7M228.91 274.75h-1.7M218.91 320.88v-3.0M218.91 259.38v3.0M168.91 269.63h3.0M228.91 269.63h-3.0M223.91 320.88v-1.7M223.91 259.38v1.7M168.91 264.50h1.7M228.91 264.50h-1.7M237.15 320.88v-1.7M237.15 259.38v1.7M232.15 315.75h1.7M292.15 315.75h-1.7M242.15 320.88v-3.0M242.15 259.38v3.0M232.15 310.63h3.0M292.15 310.63h-3.0M247.15 320.88v-1.7M247.15 259.38v1.7M232.15 305.50h1.7M292.15 305.50h-1.7M252.15 320.88v-1.7M252.15 259.38v1.7M232.15 300.38h1.7M292.15 300.38h-1.7M257.15 320.88v-1.7M257.15 259.38v1.7M232.15 295.25h1.7M292.15 295.25h-1.7M262.15 320.88v-3.0M262.15 259.38v3.0M232.15 290.13h3.0M292.15 290.13h-3.0M267.15 320.88v-1.7M267.15 259.38v1.7M232.15 285.00h1.7M292.15 285.00h-1.7M272.15 320.88v-1.7M272.15 259.38v1.7M232.15 279.88h1.7M292.15 279.88h-1.7M277.15 320.88v-1.7M277.15 259.38v1.7M232.15 274.75h1.7M292.15 274.75h-1.7M282.15 320.88v-3.0M282.15 259.38v3.0M232.15 269.63h3.0M292.15 269.63h-3.0M287.15 320.88v-1.7M287.15 259.38v1.7M232.15 264.50h1.7M292.15 264.50h-1.7M300.39 320.88v-1.7M300.39 259.38v1.7M305.39 320.88v-3.0M305.39 259.38v3.0M310.39 320.88v-1.7M310.39 259.38v1.7M315.39 320.88v-1.7M315.39 259.38v1.7M320.39 320.88v-1.7M320.39 259.38v1.7M325.39 320.88v-3.0M325.39 259.38v3.0M330.39 320.88v-1.7M330.39 259.38v1.7M335.39 320.88v-1.7M335.39 259.38v1.7M340.39 320.88v-1.7M340.39 259.38v1.7M345.39 320.88v-3.0M345.39 259.38v3.0M350.39 320.88v-1.7M350.39 259.38v1.7" stroke="#333333" stroke-width="0.9" fill="none"/>
<g font-family="Liberation Serif, serif" font-size="7.9" fill="#1c1c1c" stroke="#1c1c1c" stroke-width="0.2" text-anchor="end">
<text transform="translate(60.18 329.30) rotate(-45)">292.6</text>
<text transform="translate(80.18 329.30) rotate(-45)">627.7</text>
<text transform="translate(100.18 329.30) rotate(-45)">962.9</text>
<text transform="translate(127.61 329.30) rotate(-45)">0.228072</text>
<text transform="translate(147.61 329.30) rotate(-45)">0.228927</text>
<text transform="translate(167.61 329.30) rotate(-45)">0.229781</text>
<text transform="translate(186.66 329.30) rotate(-45)">3.248</text>
<text transform="translate(206.66 329.30) rotate(-45)">7.724</text>
<text transform="translate(228.06 329.30) rotate(-45)">12.200</text>
<text transform="translate(249.90 329.30) rotate(-45)">0.265</text>
<text transform="translate(269.90 329.30) rotate(-45)">0.992</text>
<text transform="translate(289.90 329.30) rotate(-45)">1.719</text>
<text transform="translate(314.72 329.30) rotate(-45)">−0.733</text>
<text transform="translate(334.72 329.30) rotate(-45)">−0.001</text>
<text transform="translate(353.14 329.30) rotate(-45)">0.732</text>
<text transform="translate(37.5 117.97) rotate(-45)">0.228072</text>
<text transform="translate(37.5 97.47) rotate(-45)">0.228927</text>
<text transform="translate(37.5 76.97) rotate(-45)">0.229781</text>
<text transform="translate(37.5 182.69) rotate(-45)">3.248</text>
<text transform="translate(37.5 162.19) rotate(-45)">7.724</text>
<text transform="translate(37.5 141.69) rotate(-45)">12.200</text>
<text transform="translate(37.5 247.41) rotate(-45)">0.265</text>
<text transform="translate(37.5 226.91) rotate(-45)">0.992</text>
<text transform="translate(37.5 206.41) rotate(-45)">1.719</text>
<text transform="translate(37.5 312.13) rotate(-45)">−0.733</text>
<text transform="translate(37.5 291.63) rotate(-45)">−0.001</text>
<text transform="translate(37.5 271.13) rotate(-45)">0.732</text>
</g>
<g font-family="Liberation Serif, serif" fill="#222">
<g id="xl0"><text x="38.25" y="353.20" font-size="10.5" font-style="italic" textLength="5.00" lengthAdjust="spacingAndGlyphs">r</text><text x="43.25" y="355.10" font-size="7.6" font-style="italic" textLength="3.50" lengthAdjust="spacingAndGlyphs">s</text><text x="46.65" y="355.10" font-size="7.6" textLength="1.60" lengthAdjust="spacingAndGlyphs">,</text><text x="48.35" y="355.10" font-size="7.6" textLength="18.95" lengthAdjust="spacingAndGlyphs">main</text><path d="M74.60 345.70H72.50V356.50H74.60" fill="none" stroke="#222" stroke-width="0.75"/><text x="74.85" y="353.20" font-size="10.5" textLength="16.90" lengthAdjust="spacingAndGlyphs">kpc</text><path d="M92.80 356.20L97.20 345.40" fill="none" stroke="#222" stroke-width="0.7"/><text x="97.95" y="353.20" font-size="10.5" font-style="italic" textLength="5.50" lengthAdjust="spacingAndGlyphs">h</text><path d="M103.60 345.70H105.65V356.50H103.60" fill="none" stroke="#222" stroke-width="0.75"/></g>
<g id="xl1"><text x="124.85" y="359.20" font-size="10.5" font-style="italic" textLength="5.10" lengthAdjust="spacingAndGlyphs">z</text><text x="129.65" y="361.00" font-size="7.6" textLength="18.10" lengthAdjust="spacingAndGlyphs">main</text></g>
<g id="xl2"><text x="158.55" y="356.30" font-size="10.5" font-style="italic" textLength="10.80" lengthAdjust="spacingAndGlyphs">M</text><text x="168.65" y="358.30" font-size="7.6" textLength="12.80" lengthAdjust="spacingAndGlyphs">200</text><path d="M188.50 348.80H186.35V359.60H188.50" fill="none" stroke="#222" stroke-width="0.75"/><text x="189.05" y="356.30" font-size="10.5" textLength="10.10" lengthAdjust="spacingAndGlyphs">10</text><text x="199.65" y="352.60" font-size="7.6" textLength="8.20" lengthAdjust="spacingAndGlyphs">14</text><text x="208.05" y="356.30" font-size="10.5" textLength="10.30" lengthAdjust="spacingAndGlyphs">M</text><circle cx="221.25" cy="356.70" r="2.45" fill="none" stroke="#222" stroke-width="0.6"/><circle cx="221.25" cy="356.70" r="0.65" fill="#222"/><path d="M226.10 359.30L230.70 348.50" fill="none" stroke="#222" stroke-width="0.7"/><text x="231.45" y="356.30" font-size="10.5" font-style="italic" textLength="5.80" lengthAdjust="spacingAndGlyphs">h</text><path d="M237.40 348.80H239.85V359.60H237.40" fill="none" stroke="#222" stroke-width="0.75"/></g>
<g id="xl3"><text x="239.95" y="352.30" font-size="10.5" textLength="14.80" lengthAdjust="spacingAndGlyphs">log</text><text x="254.65" y="354.20" font-size="7.6" textLength="6.80" lengthAdjust="spacingAndGlyphs">10</text><path d="M265.00 344.80H263.05V355.60H265.00" fill="none" stroke="#222" stroke-width="0.75"/><text x="265.15" y="352.30" font-size="10.5" font-style="italic" textLength="4.70" lengthAdjust="spacingAndGlyphs">c</text><text x="269.65" y="354.20" font-size="7.6" textLength="12.00" lengthAdjust="spacingAndGlyphs">200</text><path d="M282.20 344.80H284.65V355.60H282.20" fill="none" stroke="#222" stroke-width="0.75"/></g>
<g id="xl4"><text x="292.65" y="355.70" font-size="10.5" textLength="7.90" lengthAdjust="spacingAndGlyphs">−</text><text x="303.45" y="355.70" font-size="10.5" textLength="14.20" lengthAdjust="spacingAndGlyphs">log</text><text x="317.65" y="357.60" font-size="7.6" textLength="8.40" lengthAdjust="spacingAndGlyphs">10</text><path d="M329.50 348.20H327.25V359.00H329.50" fill="none" stroke="#222" stroke-width="0.75"/><text x="330.25" y="355.70" font-size="10.5" textLength="5.00" lengthAdjust="spacingAndGlyphs">1</text><text x="338.15" y="355.70" font-size="10.5" textLength="7.50" lengthAdjust="spacingAndGlyphs">−</text><text x="348.55" y="355.70" font-size="10.5" font-style="italic" textLength="6.00" lengthAdjust="spacingAndGlyphs">β</text><path d="M354.50 348.20H356.55V359.00H354.50" fill="none" stroke="#222" stroke-width="0.75"/></g>
<g id="yl1" transform="translate(3.9 107.2) rotate(-90) scale(1.0 1)"><text x="-0.25" y="0.00" font-size="10.5" font-style="italic" textLength="5.10" lengthAdjust="spacingAndGlyphs">z</text><text x="3.95" y="3.60" font-size="7.6" textLength="18.10" lengthAdjust="spacingAndGlyphs">main</text></g>
<g id="yl2" transform="translate(10.3 197.8) rotate(-90) scale(0.955 1)"><text x="-0.25" y="0.00" font-size="10.5" font-style="italic" textLength="10.80" lengthAdjust="spacingAndGlyphs">M</text><text x="9.85" y="2.00" font-size="7.6" textLength="12.80" lengthAdjust="spacingAndGlyphs">200</text><path d="M29.70 -7.50H27.55V3.30H29.70" fill="none" stroke="#222" stroke-width="0.75"/><text x="30.25" y="0.00" font-size="10.5" textLength="10.10" lengthAdjust="spacingAndGlyphs">10</text><text x="40.85" y="-3.70" font-size="7.6" textLength="8.20" lengthAdjust="spacingAndGlyphs">14</text><text x="49.25" y="0.00" font-size="10.5" textLength="10.30" lengthAdjust="spacingAndGlyphs">M</text><circle cx="62.45" cy="0.40" r="2.45" fill="none" stroke="#222" stroke-width="0.6"/><circle cx="62.45" cy="0.40" r="0.65" fill="#222"/><path d="M67.30 3.00L71.90 -7.80" fill="none" stroke="#222" stroke-width="0.7"/><text x="72.65" y="0.00" font-size="10.5" font-style="italic" textLength="5.80" lengthAdjust="spacingAndGlyphs">h</text><path d="M78.60 -7.50H81.05V3.30H78.60" fill="none" stroke="#222" stroke-width="0.75"/></g>
<g id="yl3" transform="translate(12.4 248.6) rotate(-90) scale(1.04 1)"><text x="-0.25" y="0.00" font-size="10.5" textLength="14.80" lengthAdjust="spacingAndGlyphs">log</text><text x="14.45" y="1.90" font-size="7.6" textLength="6.80" lengthAdjust="spacingAndGlyphs">10</text><path d="M24.80 -7.50H22.85V3.30H24.80" fill="none" stroke="#222" stroke-width="0.75"/><text x="24.95" y="0.00" font-size="10.5" font-style="italic" textLength="4.70" lengthAdjust="spacingAndGlyphs">c</text><text x="29.45" y="1.90" font-size="7.6" textLength="12.00" lengthAdjust="spacingAndGlyphs">200</text><path d="M42.00 -7.50H44.45V3.30H42.00" fill="none" stroke="#222" stroke-width="0.75"/></g>
<g id="yl4" transform="translate(10.9 322.0) rotate(-90) scale(0.96 1)"><text x="-0.25" y="0.00" font-size="10.5" textLength="7.90" lengthAdjust="spacingAndGlyphs">−</text><text x="10.55" y="0.00" font-size="10.5" textLength="14.20" lengthAdjust="spacingAndGlyphs">log</text><text x="24.75" y="1.90" font-size="7.6" textLength="8.40" lengthAdjust="spacingAndGlyphs">10</text><path d="M36.60 -7.50H34.35V3.30H36.60" fill="none" stroke="#222" stroke-width="0.75"/><text x="37.35" y="0.00" font-size="10.5" textLength="5.00" lengthAdjust="spacingAndGlyphs">1</text><text x="45.25" y="0.00" font-size="10.5" textLength="7.50" lengthAdjust="spacingAndGlyphs">−</text><text x="55.65" y="0.00" font-size="10.5" font-style="italic" textLength="6.00" lengthAdjust="spacingAndGlyphs">β</text><path d="M61.60 -7.50H63.65V3.30H61.60" fill="none" stroke="#222" stroke-width="0.75"/></g>
</g>
</g>
</svg>
</body></html>
